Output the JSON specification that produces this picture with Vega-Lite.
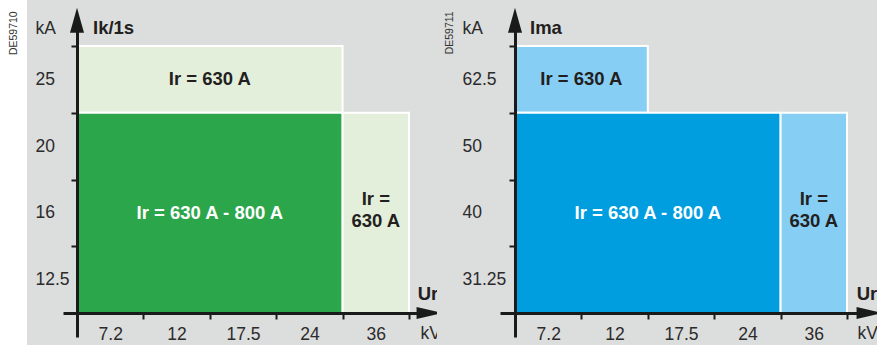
{
  "$schema": "https://vega.github.io/schema/vega-lite/v6.json",
  "background": "white",
  "padding": {"left": 8, "top": -9, "right": 0, "bottom": 0},
  "spacing": 0,
  "bounds": "flush",
  "config": {
    "view": {"fill": "#dcdddd", "stroke": null},
    "font": "Liberation Sans",
    "axis": {"labelFont": "Liberation Sans", "titleFont": "Liberation Sans", "grid": false}
  },
  "datasets": {
    "ik_rects": [
      {"rating": "Ir = 630 A", "kv_from": "7.2", "kv_to": "24", "ka_top": "25", "ka_bottom": "25"},
      {"rating": "Ir = 630 A - 800 A", "kv_from": "7.2", "kv_to": "24", "ka_top": "20", "ka_bottom": "12.5"},
      {"rating": "Ir = 630 A", "kv_from": "36", "kv_to": "36", "ka_top": "20", "ka_bottom": "12.5"}
    ],
    "ima_rects": [
      {"rating": "Ir = 630 A", "kv_from": "7.2", "kv_to": "12", "ka_top": "62.5", "ka_bottom": "62.5"},
      {"rating": "Ir = 630 A - 800 A", "kv_from": "7.2", "kv_to": "24", "ka_top": "50", "ka_bottom": "31.25"},
      {"rating": "Ir = 630 A", "kv_from": "36", "kv_to": "36", "ka_top": "50", "ka_bottom": "31.25"}
    ]
  },
  "resolve": {"scale": {"x": "independent", "y": "independent", "color": "independent"}},
  "hconcat": [
    {
      "width": 410,
      "height": 345,
      "layer": [
        {
          "data": {"name": "ik_rects"},
          "mark": {"type": "rect", "stroke": "white", "strokeWidth": 2},
          "encoding": {
            "x": {"field": "kv_from", "type": "ordinal", "bandPosition": 0,
              "scale": {"domain": ["7.2", "12", "17.5", "24", "36"], "range": [36, 398], "paddingInner": 0, "paddingOuter": 0.2259, "align": 0.4667},
              "axis": {"orient": "bottom", "offset": -32, "tickBand": "extent", "domainColor": "#1a1a1a", "domainWidth": 3, "tickColor": "#1a1a1a", "tickWidth": 2, "tickSize": 6, "labelFontSize": 17.5, "labelColor": "#2b2b2b", "labelPadding": 6, "labelAngle": 0, "labelOverlap": false, "title": "kV", "titleX": 393, "titleY": 20, "titleAlign": "left", "titleBaseline": "middle", "titleFontWeight": "normal", "titleFontSize": 17.5, "titleColor": "#2b2b2b"}},
            "x2": {"field": "kv_to", "bandPosition": 1},
            "y": {"field": "ka_top", "type": "ordinal", "bandPosition": 0,
              "scale": {"domain": ["25", "20", "16", "12.5"], "range": [25, 337], "paddingInner": 0, "paddingOuter": 0.337, "align": 0.4667},
              "axis": {"orient": "left", "offset": -50, "tickBand": "extent", "domainColor": "#1a1a1a", "domainWidth": 3, "tickColor": "#1a1a1a", "tickWidth": 2, "tickSize": 6, "labelFontSize": 17.5, "labelColor": "#2b2b2b", "labelPadding": 36, "labelAlign": "left", "labelBaseline": "middle", "labelOverlap": false, "title": "kA", "titleAngle": 0, "titleX": -42, "titleY": 28, "titleAlign": "left", "titleBaseline": "middle", "titleFontWeight": "normal", "titleFontSize": 17.5, "titleColor": "#2b2b2b"}},
            "y2": {"field": "ka_bottom", "bandPosition": 1},
            "color": {"field": "rating", "type": "nominal", "scale": {"domain": ["Ir = 630 A - 800 A", "Ir = 630 A"], "range": ["#2ca64a", "#e3efdb"]}, "legend": null}
          }
        },
        {
          "data": {"values": [
            {"label": "Ir = 630 A", "kv": "17.5", "ka": "25"},
            {"label": "Ir = 630 A - 800 A", "kv": "17.5", "ka": "16"}
          ]},
          "mark": {"type": "text", "fontWeight": "bold", "fontSize": 18.5, "align": "center", "baseline": "middle"},
          "encoding": {
            "x": {"field": "kv", "type": "ordinal", "bandPosition": 0},
            "y": {"field": "ka", "type": "ordinal", "bandPosition": 0.5},
            "text": {"field": "label"},
            "color": {"condition": {"test": "datum.label === 'Ir = 630 A - 800 A'", "value": "white"}, "value": "#231f20"}
          }
        },
        {
          "data": {"values": [{"label": ["Ir =", "630 A"], "kv": "36", "ka": "16"}]},
          "mark": {"type": "text", "fontWeight": "bold", "fontSize": 18.5, "align": "center", "baseline": "middle", "lineHeight": 22, "color": "#231f20", "dy": -14},
          "encoding": {
            "x": {"field": "kv", "type": "ordinal", "bandPosition": 0.5},
            "y": {"field": "ka", "type": "ordinal", "bandPosition": 0.5},
            "text": {"field": "label"}
          }
        },
        {
          "data": {"values": [{"name": "Ik/1s", "kv": "7.2", "ka": "25"}]},
          "mark": {"type": "text", "fontWeight": "bold", "fontSize": 18.5, "align": "left", "baseline": "middle", "color": "#231f20"},
          "encoding": {
            "x": {"field": "kv", "type": "ordinal", "bandPosition": 0.241},
            "y": {"field": "ka", "type": "ordinal", "bandPosition": -0.27},
            "text": {"field": "name"}
          }
        },
        {
          "data": {"values": [{"name": "Ur", "kv": "36", "ka": "12.5"}]},
          "mark": {"type": "text", "fontWeight": "bold", "fontSize": 18.5, "align": "left", "baseline": "middle", "color": "#231f20"},
          "encoding": {
            "x": {"field": "kv", "type": "ordinal", "bandPosition": 1.13},
            "y": {"field": "ka", "type": "ordinal", "bandPosition": 0.715},
            "text": {"field": "name"}
          }
        },
        {
          "data": {"values": [{"code": "DE59710", "kv": "7.2", "ka": "25"}]},
          "mark": {"type": "text", "fontSize": 10.5, "angle": 270, "align": "right", "baseline": "bottom", "color": "#333333"},
          "encoding": {
            "x": {"field": "kv", "type": "ordinal", "bandPosition": -0.874},
            "y": {"field": "ka", "type": "ordinal", "bandPosition": -0.52},
            "text": {"field": "code"}
          }
        },
        {
          "data": {"values": [{"kv": "7.2", "ka": "25"}]},
          "mark": {"type": "point", "shape": "M0,-1L0.56,1L-0.56,1Z", "filled": true, "size": 625, "color": "#1a1a1a", "opacity": 1, "strokeWidth": 0},
          "encoding": {
            "x": {"field": "kv", "type": "ordinal", "bandPosition": 0},
            "y": {"field": "ka", "type": "ordinal", "bandPosition": -0.385}
          }
        },
        {
          "data": {"values": [{"kv": "36", "ka": "12.5"}]},
          "mark": {"type": "point", "shape": "M1,0L-1,0.46L-1,-0.46Z", "filled": true, "size": 676, "color": "#1a1a1a", "opacity": 1, "strokeWidth": 0},
          "encoding": {
            "x": {"field": "kv", "type": "ordinal", "bandPosition": 1.31},
            "y": {"field": "ka", "type": "ordinal", "bandPosition": 1}
          }
        }
      ]
    },
    {
      "width": 440,
      "height": 345,
      "layer": [
        {
          "data": {"name": "ima_rects"},
          "mark": {"type": "rect", "stroke": "white", "strokeWidth": 2},
          "encoding": {
            "x": {"field": "kv_from", "type": "ordinal", "bandPosition": 0,
              "scale": {"domain": ["7.2", "12", "17.5", "24", "36"], "range": [63, 430], "paddingInner": 0, "paddingOuter": 0.2636, "align": 0.4286},
              "axis": {"orient": "bottom", "offset": -32, "tickBand": "extent", "domainColor": "#1a1a1a", "domainWidth": 3, "tickColor": "#1a1a1a", "tickWidth": 2, "tickSize": 6, "labelFontSize": 17.5, "labelColor": "#2b2b2b", "labelPadding": 6, "labelAngle": 0, "labelOverlap": false, "title": "kV", "titleX": 420, "titleY": 20, "titleAlign": "left", "titleBaseline": "middle", "titleFontWeight": "normal", "titleFontSize": 17.5, "titleColor": "#2b2b2b"}},
            "x2": {"field": "kv_to", "bandPosition": 1},
            "y": {"field": "ka_top", "type": "ordinal", "bandPosition": 0,
              "scale": {"domain": ["62.5", "50", "40", "31.25"], "range": [25, 337], "paddingInner": 0, "paddingOuter": 0.337, "align": 0.4667},
              "axis": {"orient": "left", "offset": -78, "tickBand": "extent", "domainColor": "#1a1a1a", "domainWidth": 3, "tickColor": "#1a1a1a", "tickWidth": 2, "tickSize": 6, "labelFontSize": 17.5, "labelColor": "#2b2b2b", "labelPadding": 47, "labelAlign": "left", "labelBaseline": "middle", "labelOverlap": false, "title": "kA", "titleAngle": 0, "titleX": -53, "titleY": 28, "titleAlign": "left", "titleBaseline": "middle", "titleFontWeight": "normal", "titleFontSize": 17.5, "titleColor": "#2b2b2b"}},
            "y2": {"field": "ka_bottom", "bandPosition": 1},
            "color": {"field": "rating", "type": "nominal", "scale": {"domain": ["Ir = 630 A - 800 A", "Ir = 630 A"], "range": ["#009edf", "#87cef5"]}, "legend": null}
          }
        },
        {
          "data": {"values": [
            {"label": "Ir = 630 A", "kv": "12", "ka": "62.5"},
            {"label": "Ir = 630 A - 800 A", "kv": "17.5", "ka": "40"}
          ]},
          "mark": {"type": "text", "fontWeight": "bold", "fontSize": 18.5, "align": "center", "baseline": "middle"},
          "encoding": {
            "x": {"field": "kv", "type": "ordinal", "bandPosition": 0},
            "y": {"field": "ka", "type": "ordinal", "bandPosition": 0.5},
            "text": {"field": "label"},
            "color": {"condition": {"test": "datum.label === 'Ir = 630 A - 800 A'", "value": "white"}, "value": "#231f20"}
          }
        },
        {
          "data": {"values": [{"label": ["Ir =", "630 A"], "kv": "36", "ka": "40"}]},
          "mark": {"type": "text", "fontWeight": "bold", "fontSize": 18.5, "align": "center", "baseline": "middle", "lineHeight": 22, "color": "#231f20", "dy": -14},
          "encoding": {
            "x": {"field": "kv", "type": "ordinal", "bandPosition": 0.5},
            "y": {"field": "ka", "type": "ordinal", "bandPosition": 0.5},
            "text": {"field": "label"}
          }
        },
        {
          "data": {"values": [{"name": "Ima", "kv": "7.2", "ka": "62.5"}]},
          "mark": {"type": "text", "fontWeight": "bold", "fontSize": 18.5, "align": "left", "baseline": "middle", "color": "#231f20"},
          "encoding": {
            "x": {"field": "kv", "type": "ordinal", "bandPosition": 0.226},
            "y": {"field": "ka", "type": "ordinal", "bandPosition": -0.27},
            "text": {"field": "name"}
          }
        },
        {
          "data": {"values": [{"name": "Ur", "kv": "36", "ka": "31.25"}]},
          "mark": {"type": "text", "fontWeight": "bold", "fontSize": 18.5, "align": "left", "baseline": "middle", "color": "#231f20"},
          "encoding": {
            "x": {"field": "kv", "type": "ordinal", "bandPosition": 1.145},
            "y": {"field": "ka", "type": "ordinal", "bandPosition": 0.715},
            "text": {"field": "name"}
          }
        },
        {
          "data": {"values": [{"code": "DE59711", "kv": "7.2", "ka": "62.5"}]},
          "mark": {"type": "text", "fontSize": 10.5, "angle": 270, "align": "right", "baseline": "bottom", "color": "#333333"},
          "encoding": {
            "x": {"field": "kv", "type": "ordinal", "bandPosition": -0.904},
            "y": {"field": "ka", "type": "ordinal", "bandPosition": -0.52},
            "text": {"field": "code"}
          }
        },
        {
          "data": {"values": [{"kv": "7.2", "ka": "62.5"}]},
          "mark": {"type": "point", "shape": "M0,-1L0.56,1L-0.56,1Z", "filled": true, "size": 625, "color": "#1a1a1a", "opacity": 1, "strokeWidth": 0},
          "encoding": {
            "x": {"field": "kv", "type": "ordinal", "bandPosition": 0},
            "y": {"field": "ka", "type": "ordinal", "bandPosition": -0.385}
          }
        },
        {
          "data": {"values": [{"kv": "36", "ka": "31.25"}]},
          "mark": {"type": "point", "shape": "M1,0L-1,0.46L-1,-0.46Z", "filled": true, "size": 676, "color": "#1a1a1a", "opacity": 1, "strokeWidth": 0},
          "encoding": {
            "x": {"field": "kv", "type": "ordinal", "bandPosition": 1.34},
            "y": {"field": "ka", "type": "ordinal", "bandPosition": 1}
          }
        }
      ]
    }
  ]
}
